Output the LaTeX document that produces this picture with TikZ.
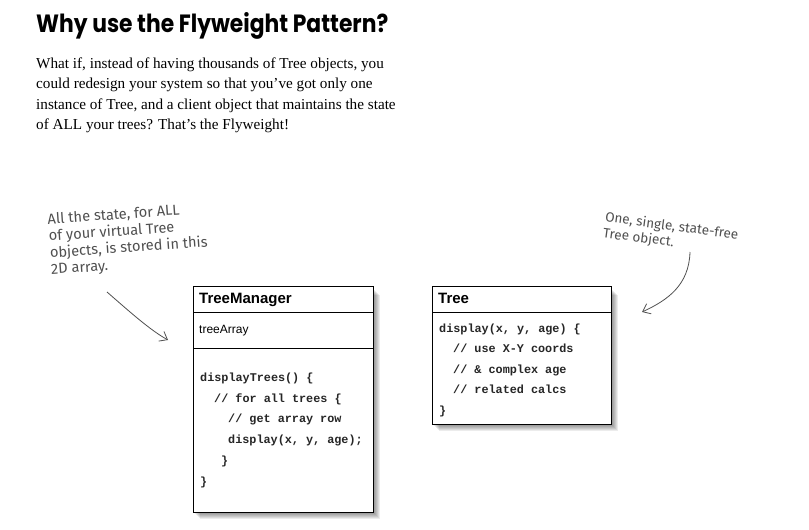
\documentclass[tikz,border=0pt]{standalone}
\usepackage{fontspec}
\setmainfont{Liberation Serif}
\newfontfamily\titlefont{Poppins}
\newfontfamily\umlfont{Liberation Sans}
\newfontfamily\codefont{Liberation Mono}
\newfontfamily\handfont{Fira Sans}
\usetikzlibrary{arrows.meta}
\definecolor{handgray}{HTML}{505050}
\begin{document}
\begin{tikzpicture}[x=1pt,y=-1pt,
  umlbox/.style={draw=black, line width=0.8pt, fill=white, anchor=north west, inner sep=0pt},
  hdr/.style={anchor=base west, inner sep=0pt, font=\umlfont\bfseries\fontsize{15}{15}\selectfont},
  attr/.style={anchor=base west, inner sep=0pt, font=\umlfont\fontsize{12}{12}\selectfont},
  code/.style={anchor=base west, inner sep=0pt, text=black!85, font=\codefont\bfseries\fontsize{11.8}{12}\selectfont},
  body/.style={anchor=base west, inner sep=0pt, font=\fontsize{15.2}{15.2}\selectfont},
  hand/.style={anchor=north west, inner sep=0pt, align=left, text=handgray, font=\handfont\fontsize{14.6}{16.8}\selectfont},
  handarrow/.style={draw=handgray, line width=0.8pt, -{Straight Barb[length=7pt,width=11pt]}},
  divider/.style={draw=black, line width=0.6pt}]
\useasboundingbox (0,0) rectangle (809,530);
\fill[white] (0,0) rectangle (809,530);

% title
\node[anchor=base west, inner sep=0pt] (title) at (36,33)
  {\resizebox{352pt}{20pt}{\titlefont\bfseries Why use the Flyweight Pattern?}};

% body text
\node[body] (b1) at (36,68) {What if, instead of having thousands of Tree objects, you};
\node[body] (b2) at (36,88.5) {could redesign your system so that you’ve got only one};
\node[body] (b3) at (36,109) {instance of Tree, and a client object that maintains the state};
\node[body] (b4) at (36,129.5) {of ALL your trees? That’s the Flyweight!};

% shadows
\foreach \i in {1,...,7}{
  \fill[black, opacity=0.075] (193+\i,286+\i+2) rectangle (373+\i,512+\i);
  \fill[black, opacity=0.075] (432+\i,286+\i+2) rectangle (611+\i,424+\i);
}

% TreeManager box
\node[umlbox, minimum width=180pt, minimum height=226pt] (tm) at (193,286) {};
\draw[divider] (tm.west |- 0,312) -- (tm.east |- 0,312);
\draw[divider] (tm.west |- 0,348) -- (tm.east |- 0,348);
\node[hdr] (tmname) at (199,303) {TreeManager};
\node[attr] (tmattr) at (199,333) {treeArray};
\node[code] (c1) at (200,381) {displayTrees() \{};
\node[code] (c2) at (214,402) {// for all trees \{};
\node[code] (c3) at (228,422.5) {// get array row};
\node[code] (c4) at (228,443) {display(x, y, age);};
\node[code] (c5) at (221,464) {\}};
\node[code] (c6) at (200,485) {\}};

% Tree box
\node[umlbox, minimum width=179pt, minimum height=138pt] (tree) at (432,286) {};
\draw[divider] (tree.west |- 0,312) -- (tree.east |- 0,312);
\node[hdr] (treename) at (438,303) {Tree};
\node[code] (t1) at (439,332) {display(x, y, age) \{};
\node[code] (t2) at (453,352.5) {// use X-Y coords};
\node[code] (t3) at (453,373) {// \& complex age};
\node[code] (t4) at (453,393.5) {// related calcs};
\node[code] (t5) at (439,414) {\}};

% left annotation
\node[hand, rotate=4] (lnote) at (47,213)
  {All the state, for ALL\\ of your virtual Tree\\ objects, is stored in this\\ 2D array.};
\coordinate (la) at (107,292);
\coordinate (lb) at (168,340);
\draw[handarrow] (la) .. controls (130,312) and (150,330) .. (lb);

% right annotation
\node[hand, rotate=-7.5, font=\handfont\fontsize{13.5}{16}\selectfont] (rnote) at (606,211)
  {One, single, state-free\\Tree object.};
\coordinate (ra) at (690,252);
\coordinate (rb) at (642,312);
\draw[handarrow] (ra) .. controls (689,285) and (668,300) .. (rb);
\end{tikzpicture}
\end{document}
